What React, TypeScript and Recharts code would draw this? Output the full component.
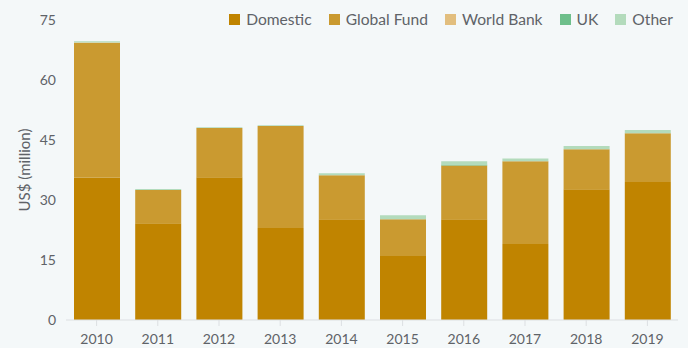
import { BarChart, Bar, XAxis, YAxis, Label } from "recharts";

const years = ["2010", "2011", "2012", "2013", "2014", "2015", "2016", "2017", "2018", "2019"];
const domestic = [35.6, 24.2, 35.7, 23, 25.2, 16, 25.2, 19, 32.7, 34.5];
const globalFund = [33.7, 8.3, 12.3, 25.5, 11, 9.2, 13.4, 20.7, 10, 12.2];
const worldBank = [0.1, 0, 0, 0, 0, 0, 0, 0, 0, 0];
const uk = [0, 0, 0, 0, 0, 0, 0.3, 0, 0, 0];
const other = [0.3, 0.25, 0.2, 0.2, 0.5, 1, 0.8, 0.7, 0.8, 0.8];
const yTicks = [0, 15, 30, 45, 60, 75];

const series = [
  { key: "domestic", name: "Domestic", color: "#C08400", values: domestic },
  { key: "globalFund", name: "Global Fund", color: "#CA9A30", values: globalFund },
  { key: "worldBank", name: "World Bank", color: "#E2BE7E", values: worldBank },
  { key: "uk", name: "UK", color: "#6EBF8B", values: uk },
  { key: "other", name: "Other", color: "#B3DBBC", values: other },
];

const data = years.map((year, i) => {
  const row: Record<string, string | number> = { year };
  series.forEach((s) => {
    row[s.key] = s.values[i];
  });
  return row;
});

const font = "Lato, 'Open Sans', sans-serif";
const textColor = "#5f6368";

export default function App() {
  return (
    <div
      style={{
        position: "absolute",
        left: 0,
        top: 0,
        width: 688,
        height: 348,
        background: "#F4F8F9",
        fontFamily: font,
      }}
    >
      {/* legend drawn as html so it doesn't push the plot area down */}
      <div
        style={{
          position: "absolute",
          top: 8,
          right: 15,
          display: "flex",
          alignItems: "center",
          fontSize: 15.6,
          color: textColor,
          lineHeight: "22px",
        }}
      >
        {series.map((s, i) => (
          <div
            key={s.key}
            style={{ display: "flex", alignItems: "center", marginLeft: i === 0 ? 0 : 17 }}
          >
            <span
              style={{ width: 11, height: 11, background: s.color, marginRight: 6, display: "inline-block" }}
            />
            <span>{s.name}</span>
          </div>
        ))}
      </div>
      <BarChart
        width={688}
        height={348}
        data={data}
        margin={{ top: 20, right: 10, bottom: 0, left: 0 }}
        barSize={46}
      >
        <XAxis
          dataKey="year"
          height={28}
          tick={{ fill: textColor, fontSize: 14, fontFamily: font }}
          axisLine={{ stroke: "#dcdfe2" }}
          tickLine={{ stroke: "#dcdfe2" }}
          tickSize={6}
          tickMargin={8}
        />
        <YAxis
          width={66}
          domain={[0, 75]}
          ticks={yTicks}
          axisLine={false}
          tickLine={false}
          tickSize={0}
          tickMargin={10}
          tick={{ fill: textColor, fontSize: 14, fontFamily: font }}
        >
          <Label
            value="US$ (million)"
            angle={-90}
            position="insideLeft"
            offset={25}
            style={{ fill: textColor, fontSize: 15, fontFamily: font, textAnchor: "middle" }}
          />
        </YAxis>
        {series.map((s) => (
          <Bar
            key={s.key}
            dataKey={s.key}
            name={s.name}
            stackId="funding"
            fill={s.color}
            isAnimationActive={false}
          />
        ))}
      </BarChart>
    </div>
  );
}
